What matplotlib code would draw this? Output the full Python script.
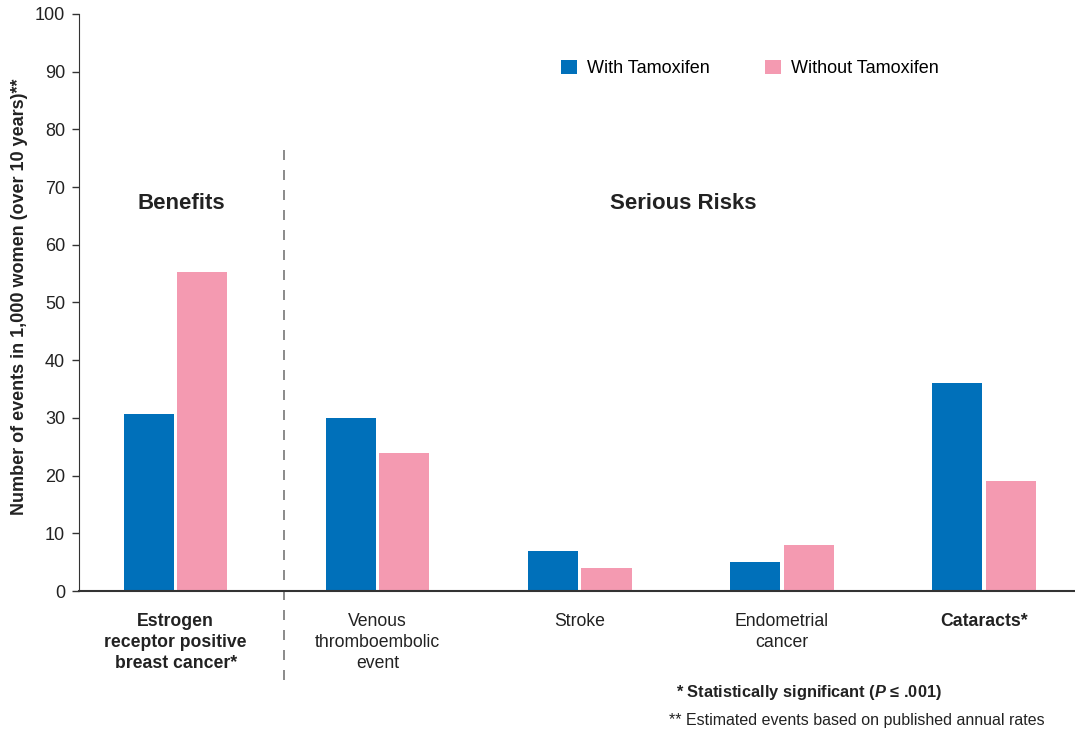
import matplotlib
matplotlib.use("Agg")
import matplotlib.pyplot as plt
import numpy as np
from matplotlib.lines import Line2D

plt.rcParams['font.family'] = ['Liberation Sans', 'DejaVu Sans']
plt.rcParams['mathtext.fontset'] = 'custom'
plt.rcParams['mathtext.bfit'] = 'Liberation Sans:italic:bold'

#----------------- data
categories = ["Estrogen\nreceptor positive\nbreast cancer*", "Venous\nthromboembolic\nevent",
              "Stroke", "Endometrial\ncancer", "Cataracts*"]
bold_cat = [True, False, False, False, True]
with_tam = [30.7, 30, 7, 5, 36]
without_tam = [55.2, 24, 4, 8, 19]
series_names = ["With Tamoxifen", "Without Tamoxifen"]

blue = "#0070BA"
pink = "#F49AB1"

fig = plt.figure(figsize=(10.75, 7.31), dpi=100)
ax = fig.add_axes([0.0735, 0.1915, 0.9265, 0.7895])

x = np.arange(len(categories))
w = 0.248
gap = 0.008
ax.bar(x - w/2 - gap, with_tam, w, color=blue, label=series_names[0])
ax.bar(x + w/2 + gap, without_tam, w, color=pink, label=series_names[1])

ax.set_xlim(-0.478, 4.45)
ax.set_ylim(0, 100)
ax.set_yticks(range(0, 101, 10))
ax.tick_params(axis='y', labelsize=13, length=5, width=1, color="#333333", labelcolor="#222222", pad=5)
ax.set_xticks(x)
ax.set_xticklabels(categories, fontsize=12.7, color="#222222", linespacing=1.3)
ax.tick_params(axis='x', length=0, pad=16)
for lab, b in zip(ax.get_xticklabels(), bold_cat):
    if b:
        lab.set_fontweight("bold")

ax.spines['top'].set_visible(False)
ax.spines['right'].set_visible(False)
ax.spines['left'].set_color("#333333")
ax.spines['bottom'].set_color("#333333")
ax.spines['bottom'].set_linewidth(1.5)

ax.set_ylabel("Number of events in 1,000 women (over 10 years)**", fontsize=13,
              fontweight="bold", color="#222222")
ax.yaxis.set_label_coords(-0.051, 0.51)

# dashed divider
ax.add_line(Line2D([0.537, 0.537], [76.5, -15.5], color="#777777", lw=1.2,
                   linestyle=(0, (6, 6)), clip_on=False))

ax.text(0.03, 67.2, "Benefits", ha="center", va="center", fontsize=16, fontweight="bold", color="#222222")
ax.text(2.51, 67.2, "Serious Risks", ha="center", va="center", fontsize=16, fontweight="bold", color="#222222")

ax.legend(loc="center left", bbox_to_anchor=(0.468, 0.905), ncol=2, frameon=False, fontsize=13,
          handlelength=0.85, handleheight=0.85, handletextpad=0.55, columnspacing=3.1)

fig.text(0.629, 1 - 693/731, "* Statistically significant ($\\mathbfit{P}$ \u2264 .001)", fontsize=11.8,
         fontweight="bold", color="#222222", va="center")
fig.text(0.622, 1 - 721/731, "** Estimated events based on published annual rates", fontsize=11.5,
         color="#222222", va="center")

fig.savefig("out.png", dpi=100)
